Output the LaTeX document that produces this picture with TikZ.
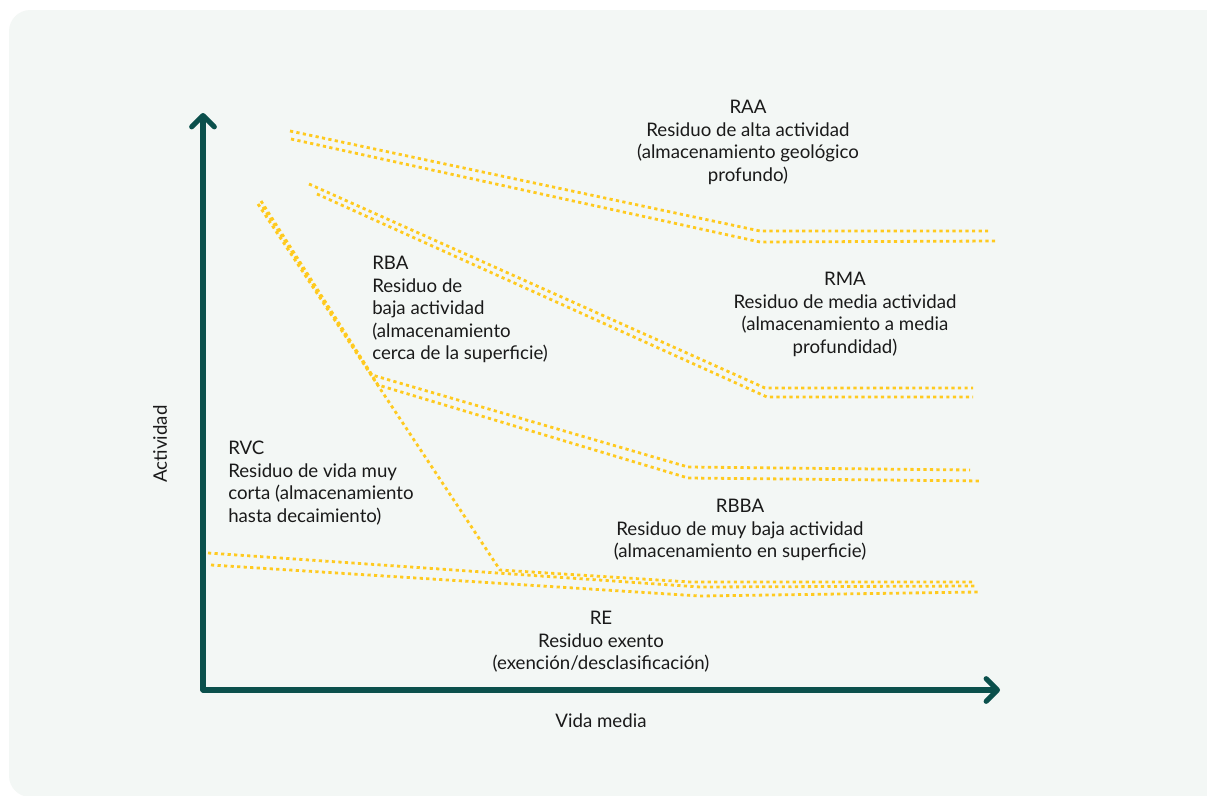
\documentclass[tikz,border=0pt]{standalone}
\usepackage{fontspec}
\setmainfont{Lato}
\usetikzlibrary{arrows.meta}
\definecolor{panel}{HTML}{F3F7F5}
\definecolor{axiscol}{HTML}{0B504C}
\definecolor{band}{HTML}{FFCA1F}
\definecolor{ink}{HTML}{1A1A1A}
\begin{document}
\begin{tikzpicture}[x=0.75pt,y=-0.75pt,
  axisline/.style={draw=axiscol,line width=3.8pt,line cap=round,line join=round,
    -{Straight Barb[length=8.5pt,width=17pt,round]}},
  bandline/.style={draw=band,line width=2.1pt,dash pattern=on 2.4pt off 2.5pt,line join=round},
  lbl/.style={font=\fontsize{14}{16.9}\selectfont,text=ink,inner sep=0pt,anchor=north}]
\useasboundingbox (0,0) rectangle (1207,796);
\fill[white] (0,0) rectangle (1207,796);
\fill[panel,rounded corners=16pt] (9,10) rectangle (1230,797);

% activity bands
\draw[bandline] (290,131) -- (760,231) -- (988,231);
\draw[bandline] (291,139) -- (760,242) -- (996,241);
\draw[bandline] (309,184) -- (765,388) -- (973,388);
\draw[bandline] (317,194) -- (767,397) -- (973,397);
\draw[bandline] (261,201) -- (372,375) -- (688,467) -- (970,470);
\draw[bandline] (263,207) -- (378,385) -- (688,478) -- (982,481);
\draw[bandline] (258,204) -- (500,570) -- (690,582) -- (973,582);
\draw[bandline] (208,553) -- (700,587) -- (977,586);
\draw[bandline] (211,565) -- (700,596) -- (978,592);

% axes
\coordinate (origin) at (203,690);
\coordinate (ytip) at (203,113);
\coordinate (xtip) at (1000,690);
\draw[axisline] (origin) -- (ytip);
\draw[axisline] (origin) -- (xtip);

% labels
\node[lbl,align=center] (raa) at (748,100) {RAA\\Residuo de alta actividad\\(almacenamiento geológico\\profundo)};
\node[lbl,align=left,anchor=north west] (rba) at (372,256) {RBA\\Residuo de\\baja actividad\\(almacenamiento\\cerca de la superficie)};
\node[lbl,align=center] (rma) at (845,272) {RMA\\Residuo de media actividad\\(almacenamiento a media\\profundidad)};
\node[lbl,align=left,anchor=north west] (rvc) at (228,441) {RVC\\Residuo de vida muy\\corta (almacenamiento\\hasta decaimiento)};
\node[lbl,align=center] (rbba) at (740,499) {RBBA\\Residuo de muy baja actividad\\(almacenamiento en superficie)};
\node[lbl,align=center] (re) at (601,611) {RE\\Residuo exento\\(exención/desclasificación)};
\node[lbl,anchor=center,rotate=90] (ylab) at (160,444) {Actividad};
\node[lbl,anchor=center] (xlab) at (601,721) {Vida media};
\end{tikzpicture}
\end{document}
